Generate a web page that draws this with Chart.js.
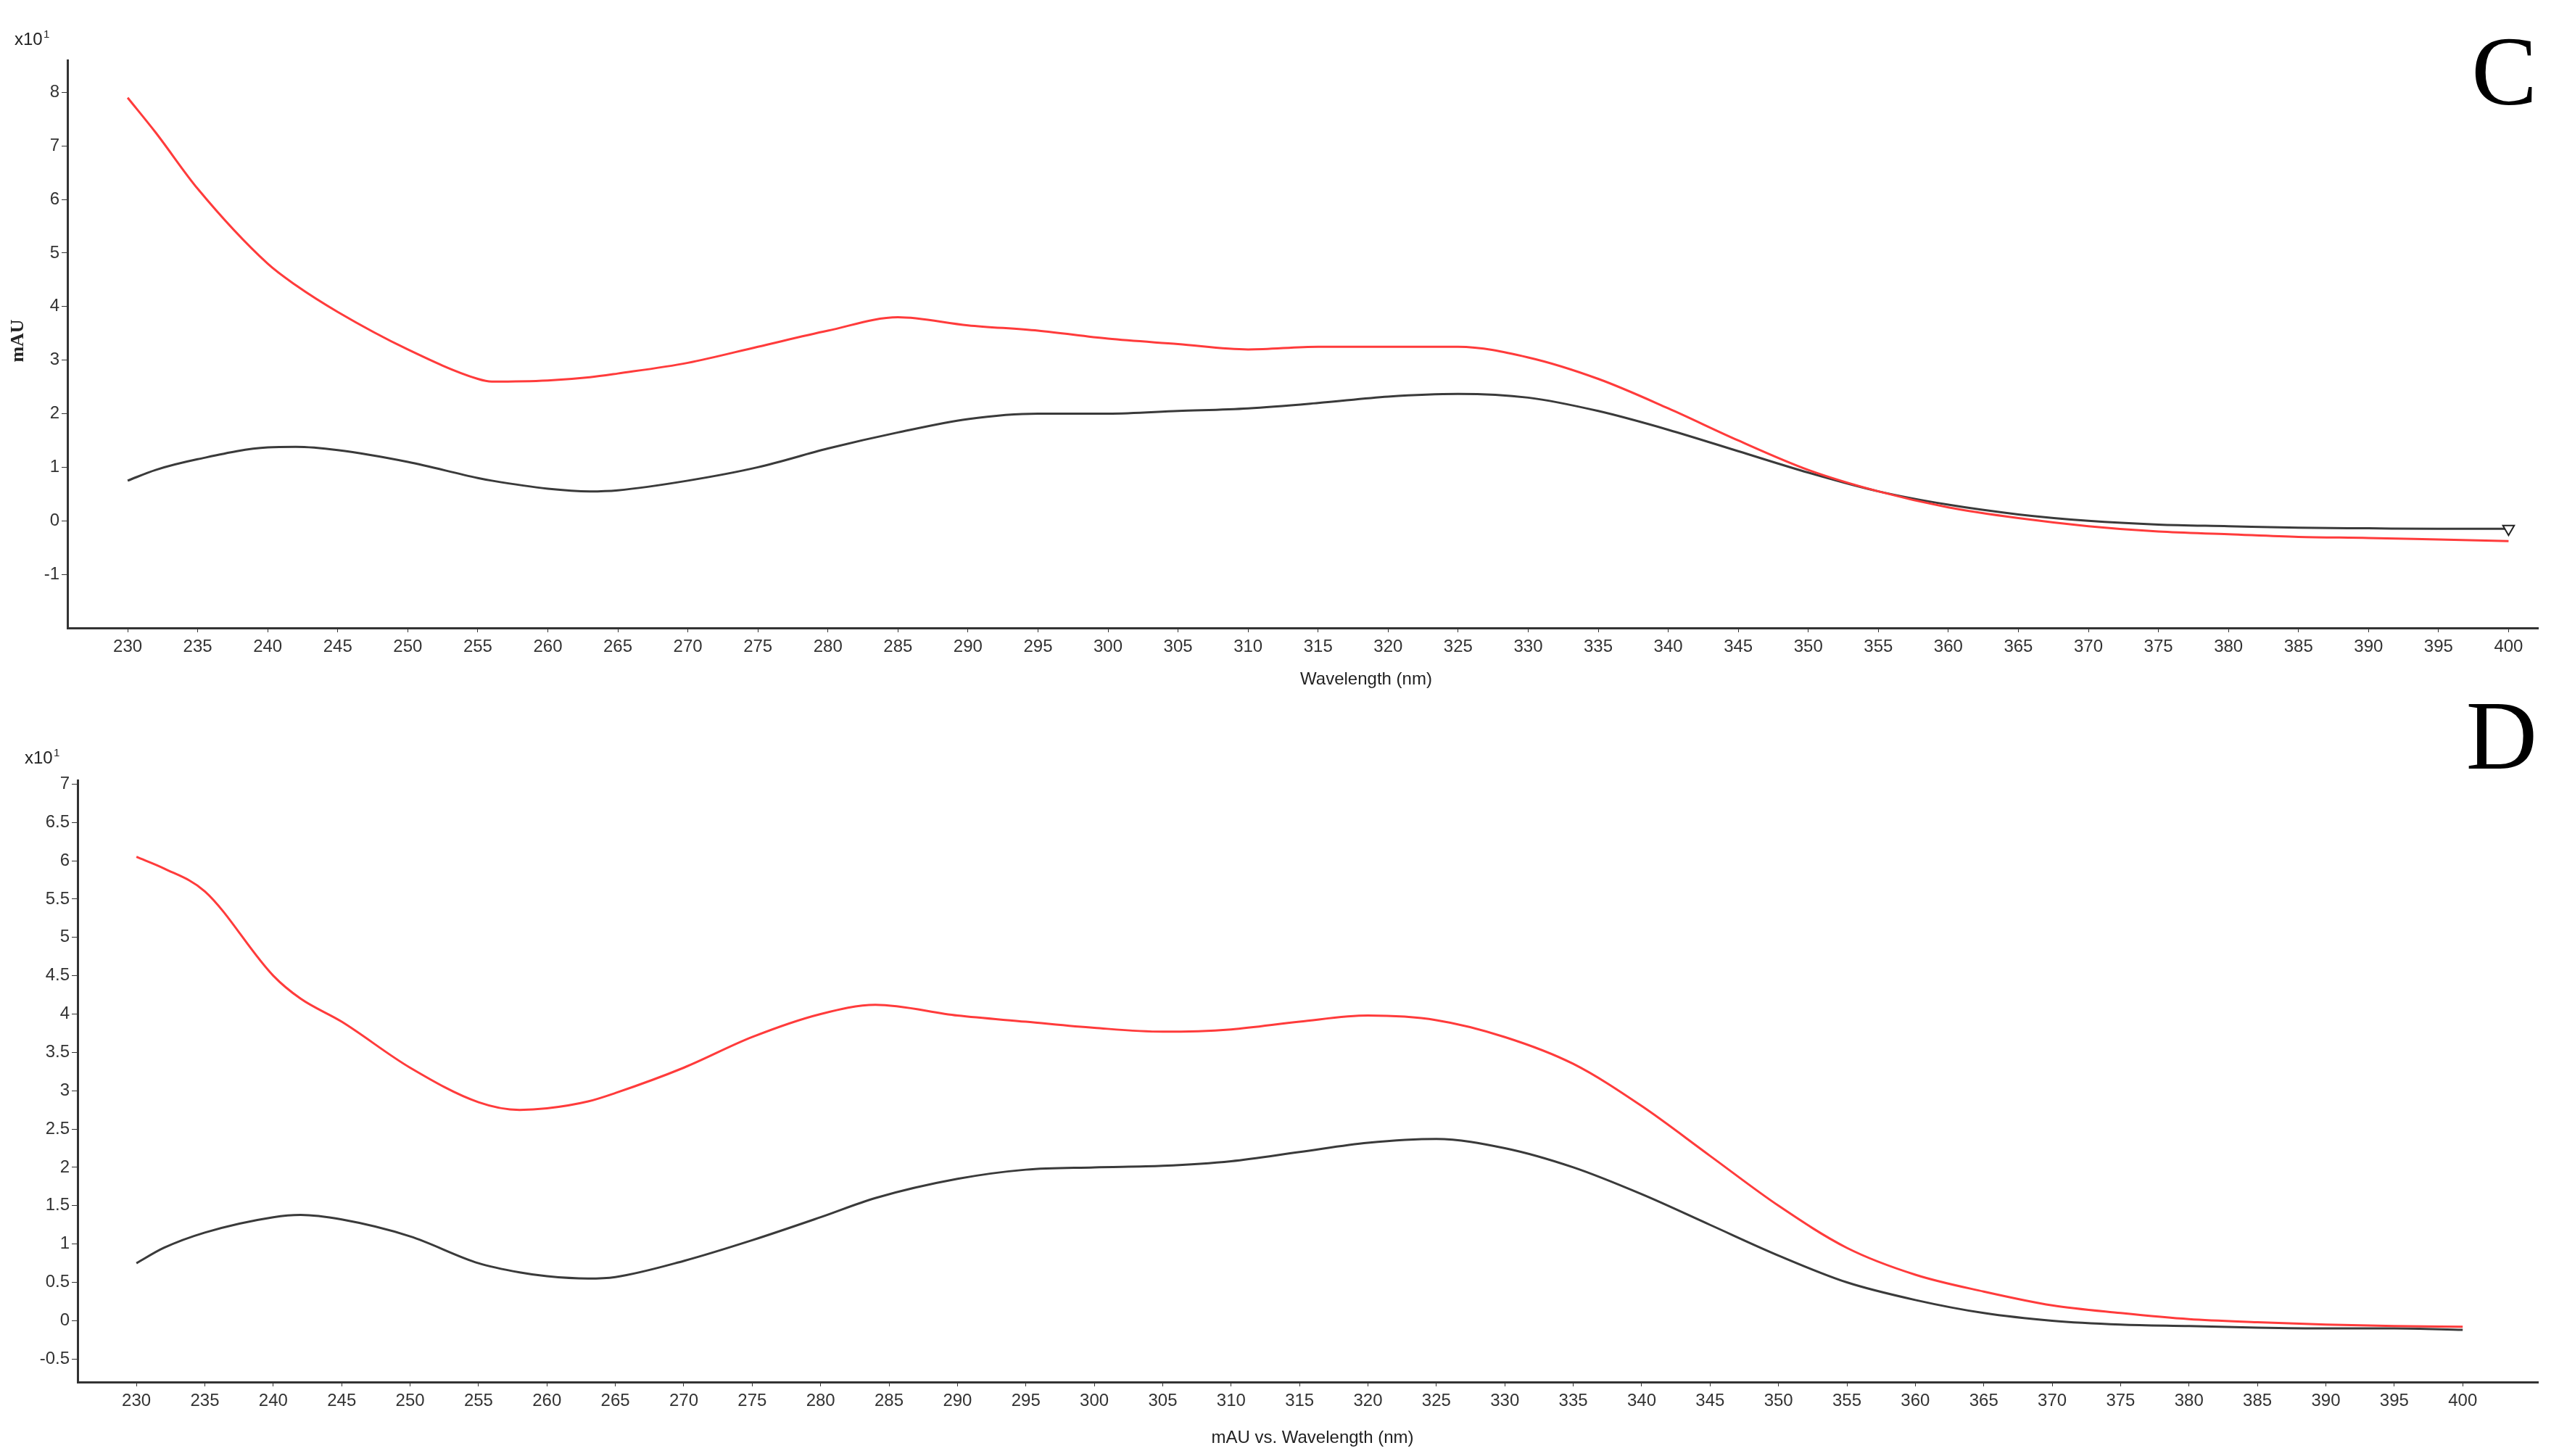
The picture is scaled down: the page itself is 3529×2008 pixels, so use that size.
<!DOCTYPE html>
<html><head><meta charset="utf-8">
<script src="https://cdn.jsdelivr.net/npm/chart.js@4/dist/chart.umd.min.js"></script>
<style>body{margin:0;background:#fff;width:3529px;height:2008px;overflow:hidden;position:relative}
.w{position:absolute;left:0;width:3529px}
.L{position:absolute;font-family:"Liberation Serif",serif;font-size:136px;line-height:1;color:#000;right:30px}</style></head><body>
<div class="w" style="top:0;height:1000px"><canvas id="c1"></canvas></div>
<div class="w" style="top:1000px;height:1008px"><canvas id="c2"></canvas></div>
<div class="L" style="top:30px">C</div>
<div class="L" style="top:946px">D</div>
<script>
const wlC=[230,232,235,240,242,245,250,255,256,260,263,265,270,275,280,285,290,295,300,305,310,315,320,325,330,335,340,345,350,355,360,365,370,375,380,385,390,395,400];
const redC=[7.9,7.25,6.2,4.8,4.4,3.9,3.2,2.65,2.6,2.62,2.68,2.75,2.95,3.25,3.55,3.8,3.65,3.55,3.4,3.3,3.2,3.25,3.25,3.25,3.05,2.65,2.1,1.5,0.95,0.55,0.25,0.05,-0.1,-0.2,-0.25,-0.3,-0.32,-0.35,-0.38];
const blackC=[0.75,0.95,1.15,1.37,1.38,1.32,1.1,0.8,0.75,0.6,0.55,0.57,0.75,1.0,1.35,1.65,1.9,2.0,2.0,2.05,2.1,2.2,2.32,2.37,2.3,2.05,1.7,1.3,0.9,0.55,0.3,0.12,0.0,-0.07,-0.1,-0.13,-0.14,-0.15,-0.15];
const wlD=[230,232,235,240,242,245,250,255,258,260,263,265,270,275,280,284,290,295,300,305,310,315,320,325,330,335,340,345,350,355,360,365,370,375,380,385,390,395,400];
const redD=[6.05,5.9,5.6,4.5,4.2,3.9,3.3,2.85,2.75,2.77,2.86,2.97,3.3,3.7,4.0,4.12,3.98,3.9,3.82,3.77,3.8,3.9,3.98,3.92,3.7,3.35,2.8,2.15,1.5,0.95,0.6,0.38,0.2,0.1,0.02,-0.02,-0.05,-0.07,-0.08];
const blackD=[0.75,0.95,1.15,1.35,1.38,1.32,1.1,0.75,0.63,0.58,0.55,0.57,0.78,1.05,1.35,1.6,1.85,1.97,2.0,2.02,2.08,2.2,2.32,2.37,2.25,2.0,1.65,1.25,0.85,0.5,0.27,0.1,0.0,-0.05,-0.07,-0.09,-0.1,-0.1,-0.12];
const xTicks=[];for(let v=230;v<=400;v+=5)xTicks.push(v);
const yTicksC=[-1,0,1,2,3,4,5,6,7,8];
const yTicksD=[-0.5,0,0.5,1,1.5,2,2.5,3,3.5,4,4.5,5,5.5,6,6.5,7];
const FONT="'Liberation Sans Narrow','Liberation Sans',Arial";
function pts(x,y){return x.map((v,i)=>({x:v,y:y[i]}));}
function make(id,opt){
  const extras={id:'extras',afterDraw(ch){const c=ch.ctx;c.save();c.fillStyle='#222';
    c.font='24px '+FONT;c.textAlign='left';c.fillText('x10',opt.x10[0],opt.x10[1]);
    c.font='15px '+FONT;c.fillText('1',opt.x10[0]+40,opt.x10[1]-10);
    c.textAlign='center';c.font='24px '+FONT;c.fillText(opt.xt,opt.xtPos[0],opt.xtPos[1]);
    if(opt.yt){c.save();c.translate(opt.yt[0],opt.yt[1]);c.rotate(-Math.PI/2);c.font='bold 26px "Liberation Serif",serif';c.fillText('mAU',0,0);c.restore();}
    c.restore();}};
  new Chart(document.getElementById(id),{type:'line',
    data:{datasets:[
      {data:pts(opt.wl,opt.red),borderColor:'#ff3b3b',borderWidth:3,pointRadius:0,cubicInterpolationMode:'monotone'},
      {data:pts(opt.wl,opt.black),borderColor:'#3a3a3a',borderWidth:3,cubicInterpolationMode:'monotone',
       pointRadius:opt.wl.map((v,i)=>opt.tri&&i===opt.wl.length-1?9:0),pointStyle:'triangle',rotation:180,pointBackgroundColor:'#fff',pointBorderColor:'#222',pointBorderWidth:2}]},
    options:{responsive:true,maintainAspectRatio:false,animation:false,
      layout:{padding:{top:opt.top,right:29,left:0,bottom:0}},
      plugins:{legend:{display:false},tooltip:{enabled:false}},
      scales:{
        x:{type:'linear',min:225.7,max:opt.xmax,afterBuildTicks:s=>{s.ticks=xTicks.map(v=>({value:v}));},
          afterFit:s=>{s.height=opt.xh;},
          border:{color:'#333',width:3},grid:{drawOnChartArea:false,tickLength:6,color:'#333'},
          ticks:{autoSkip:false,maxRotation:0,font:{size:24,family:FONT},color:'#333',padding:6}},
        y:{min:opt.ymin,max:opt.ymax,afterBuildTicks:s=>{s.ticks=opt.yt2.map(v=>({value:v}));},
          afterFit:s=>{s.width=opt.yw;},
          border:{color:'#333',width:3},grid:{drawOnChartArea:false,tickLength:8,color:'#333'},
          ticks:{font:{size:24,family:FONT},color:'#333',padding:3,callback:v=>String(v)}}}},
    plugins:[extras]});
}
make('c1',{wl:wlC,red:redC,black:blackC,tri:true,top:83,xh:1000-866,yw:93,ymin:-2.0,ymax:8.6,xmax:402.1,yt2:yTicksC,
  x10:[20,62],xt:'Wavelength (nm)',xtPos:[1884,944],yt:[32,470]});
make('c2',{wl:wlD,red:redD,black:blackD,tri:false,top:76,xh:1008-906,yw:107,ymin:-0.8,ymax:7.05,xmax:405.5,yt2:yTicksD,
  x10:[34,53],xt:'mAU vs. Wavelength (nm)',xtPos:[1810,990],yt:null});
</script></body></html>
